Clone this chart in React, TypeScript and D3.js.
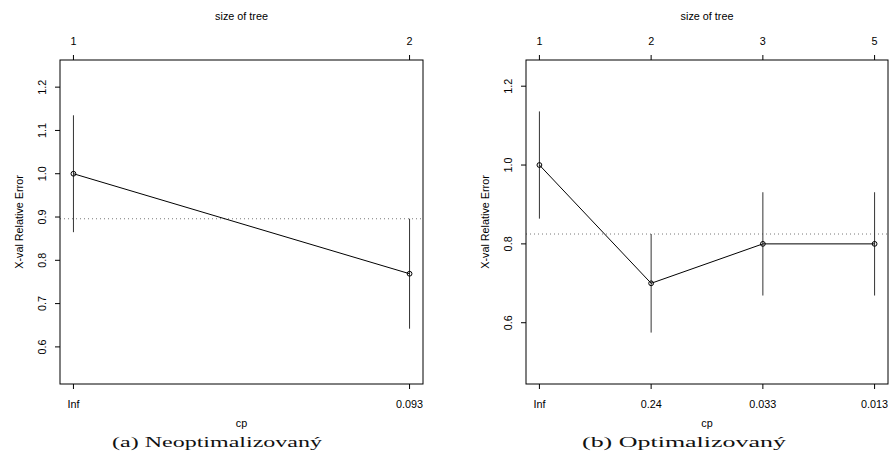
import React from "react";
import * as d3 from "d3";

const sizesA = ["1", "2"];
const cpA = ["Inf", "0.093"];
const xerrorA = [1.0, 0.769];
const xstdA = [0.135, 0.127];
const yTicksA = [0.6, 0.7, 0.8, 0.9, 1.0, 1.1, 1.2];

const sizesB = ["1", "2", "3", "5"];
const cpB = ["Inf", "0.24", "0.033", "0.013"];
const xerrorB = [1.0, 0.7, 0.8, 0.8];
const xstdB = [0.136, 0.125, 0.131, 0.131];
const yTicksB = [0.6, 0.8, 1.0, 1.2];

const SANS = "'Liberation Sans', Arial, Helvetica, sans-serif";
const SERIF = "'Liberation Serif', 'DejaVu Serif', serif";
const FS = 10.8;

type PanelProps = {
  x0: number;
  x1: number;
  sizes: string[];
  cps: string[];
  xerror: number[];
  xstd: number[];
  yTicks: number[];
  caption: string;
  capX: number;
  capW: number;
};

function Panel({ x0, x1, sizes, cps, xerror, xstd, yTicks, caption, capX, capW }: PanelProps) {
  const top = 60;
  const bottom = 384;
  const n = xerror.length;
  const xs = d3.scaleLinear().domain([1 - 0.04 * (n - 1), n + 0.04 * (n - 1)]).range([x0, x1]);
  const lo = xerror.map((v, i) => v - xstd[i]);
  const hi = xerror.map((v, i) => v + xstd[i]);
  const ymin = (d3.min(lo) as number) - 0.1;
  const ymax = (d3.max(hi) as number) + 0.1;
  const ext = (ymax - ymin) * 0.04;
  const ys = d3.scaleLinear().domain([ymin - ext, ymax + ext]).range([bottom, top]);
  const iMin = d3.minIndex(xerror);
  const thresh = xerror[iMin] + xstd[iMin];
  const line = d3
    .line<number>()
    .x((_, i) => xs(i + 1))
    .y((d) => ys(d));
  const cx = (x0 + x1) / 2;
  const cy = (top + bottom) / 2;
  return (
    <g>
      <line x1={x0} x2={x1} y1={ys(thresh)} y2={ys(thresh)} stroke="#555" strokeWidth={0.8} strokeDasharray="1 3" />
      {xerror.map((v, i) => (
        <line key={"e" + i} x1={xs(i + 1)} x2={xs(i + 1)} y1={ys(lo[i])} y2={ys(hi[i])} stroke="#333" strokeWidth={1} />
      ))}
      <path d={line(xerror) || ""} fill="none" stroke="#000" strokeWidth={1} />
      {xerror.map((v, i) => (
        <circle key={"p" + i} cx={xs(i + 1)} cy={ys(v)} r={2.4} fill="none" stroke="#000" strokeWidth={1} />
      ))}
      <rect x={x0} y={top} width={x1 - x0} height={bottom - top} fill="none" stroke="#000" strokeWidth={1} />
      {sizes.map((s, i) => (
        <g key={"t" + i}>
          <line x1={xs(i + 1)} x2={xs(i + 1)} y1={top} y2={top - 5} stroke="#000" />
          <text x={xs(i + 1)} y={top - 15} textAnchor="middle" fontFamily={SANS} fontSize={FS}>
            {s}
          </text>
        </g>
      ))}
      <text x={cx} y={20} textAnchor="middle" fontFamily={SANS} fontSize={FS}>
        size of tree
      </text>
      {cps.map((s, i) => (
        <g key={"b" + i}>
          <line x1={xs(i + 1)} x2={xs(i + 1)} y1={bottom} y2={bottom + 5} stroke="#000" />
          <text x={xs(i + 1)} y={408} textAnchor="middle" fontFamily={SANS} fontSize={FS}>
            {s}
          </text>
        </g>
      ))}
      <text x={cx} y={427} textAnchor="middle" fontFamily={SANS} fontSize={FS}>
        cp
      </text>
      {yTicks.map((t, i) => (
        <g key={"y" + i}>
          <line x1={x0} x2={x0 - 5} y1={ys(t)} y2={ys(t)} stroke="#000" />
          <text
            transform={`translate(${x0 - 14},${ys(t)}) rotate(-90)`}
            textAnchor="middle"
            fontFamily={SANS}
            fontSize={FS}
          >
            {t.toFixed(1)}
          </text>
        </g>
      ))}
      <text
        transform={`translate(${x0 - 37},${cy}) rotate(-90)`}
        textAnchor="middle"
        fontFamily={SANS}
        fontSize={FS}
      >
        X-val Relative Error
      </text>
      <text
        x={capX}
        y={447}
        textAnchor="middle"
        fontFamily={SERIF}
        fontSize={15.5}
        textLength={capW}
        lengthAdjust="spacingAndGlyphs"
        fill="#111"
      >
        {caption}
      </text>
    </g>
  );
}

export default function App() {
  return (
    <svg width={889} height={474} style={{ position: "absolute", left: 0, top: 0, background: "#fff" }}>
      <rect width={889} height={474} fill="#fff" />
      <Panel x0={60} x1={423} sizes={sizesA} cps={cpA} xerror={xerrorA} xstd={xstdA} yTicks={yTicksA} caption="(a) Neoptimalizovaný" capX={217} capW={210} />
      <Panel x0={526} x1={888} sizes={sizesB} cps={cpB} xerror={xerrorB} xstd={xstdB} yTicks={yTicksB} caption="(b) Optimalizovaný" capX={684} capW={204} />
    </svg>
  );
}
